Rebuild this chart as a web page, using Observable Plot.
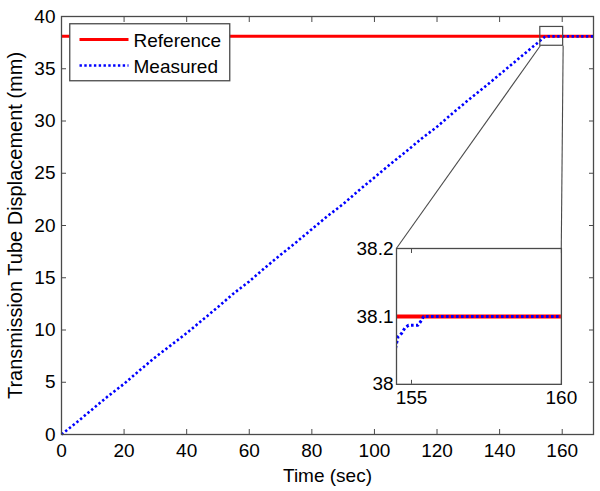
<!DOCTYPE html>
<html><head><meta charset="utf-8">
<script src="https://cdn.jsdelivr.net/npm/d3@7"></script>
<script src="https://cdn.jsdelivr.net/npm/@observablehq/plot@0.6"></script>
<style>
body{margin:0;background:#fff;}
#wrap{position:relative;width:600px;height:491px;overflow:hidden;}
#wrap svg{position:absolute;}
</style></head><body><div id="wrap"></div>
<script>
// ---- data ----
const timeSec = [0,5,10,15,20,25,30,35,40,45,50,55,60,65,70,75,80,85,90,95,100,105,110,115,120,125,130,135,140,145,150,152,154,154.5,154.55,154.67,154.78,154.9,155.22,155.33,155.4,160,165,170];
const measuredMm = [0,1.2,2.45,3.7,4.85,6.15,7.4,8.55,9.7,10.95,12.2,13.5,14.65,15.95,17.2,18.4,19.65,20.9,22.05,23.35,24.6,25.85,27.05,28.3,29.45,30.75,32.0,33.2,34.45,35.7,36.95,37.45,37.95,38.06,38.07,38.075,38.083,38.087,38.087,38.094,38.1,38.1,38.1,38.1];
const refTime = [0,170];
const refMm = [38.1,38.1];
const xTicks = [0,20,40,60,80,100,120,140,160];
const yTicks = [0,5,10,15,20,25,30,35,40];
const insetXTicks = [155,160];
const insetYTicks = [38,38.1,38.2];
const legendLabels = ["Reference","Measured"];
const xLabel = "Time (sec)";
const yLabel = "Transmission Tube Displacement (mm)";

// ---- layout config ----
const FONT = '"Liberation Sans", Arial, sans-serif';
const GRAY = "#4a4a4a";
const RED = "#ff0000", BLUE = "#0000ff";
const zoomBox = {x1:153, x2:160.3, y1:37.2, y2:39.0};        // main-axes units
const insetFrame = {x1:107, x2:159.7, y1:4.8, y2:17.8};      // main-axes units
const insetDomainX = [154.5,160], insetDomainY = [38,38.2];

const measured = timeSec.map((t,i)=>({t, v: measuredMm[i]}));
const reference = refTime.map((t,i)=>({t, v: refMm[i]}));
const connectors = [
  {xa: zoomBox.x1, ya: zoomBox.y1, xb: insetFrame.x1, yb: insetFrame.y2},
  {xa: zoomBox.x2, ya: zoomBox.y1, xb: insetFrame.x2, yb: insetFrame.y2}
];
const blank = () => "";
const fmtInset = d => String(+d.toFixed(1));

const main = Plot.plot({
  width:600, height:491,
  marginLeft:61, marginRight:7, marginTop:16, marginBottom:57,
  style:{fontFamily:FONT, fontSize:"19px", color:"#000", background:"transparent", overflow:"visible"},
  x:{domain:[0,170]}, y:{domain:[0,40]},
  marks:[
    Plot.line(reference,{x:"t", y:"v", stroke:RED, strokeWidth:3, strokeLinecap:"butt"}),
    Plot.line(measured,{x:"t", y:"v", stroke:BLUE, strokeWidth:2.6, strokeDasharray:"2.4,2.4", strokeLinecap:"butt", strokeLinejoin:"miter"}),
    Plot.rect([zoomBox],{x1:"x1", x2:"x2", y1:"y1", y2:"y2", fill:"none", stroke:GRAY, strokeWidth:1.2}),
    Plot.link(connectors,{x1:"xa", y1:"ya", x2:"xb", y2:"yb", stroke:GRAY, strokeWidth:1.1}),
    Plot.frame({stroke:GRAY, strokeWidth:1.3}),
    Plot.axisX(xTicks,{anchor:"bottom", tickSize:0, tickPadding:9, label:xLabel, labelAnchor:"center", labelOffset:47.5, labelArrow:"none"}),
    Plot.axisY(yTicks,{anchor:"left", tickSize:0, tickPadding:6, label:null}),
    Plot.axisY(yTicks,{anchor:"left", tickSize:0, tickFormat:blank, fontSize:20, label:yLabel, labelAnchor:"center", labelOffset:54, labelArrow:"none"}),
    Plot.axisX(xTicks,{anchor:"bottom", tickSize:-5, tickFormat:blank, label:null, stroke:GRAY}),
    Plot.axisX(xTicks,{anchor:"top", tickSize:-5, tickFormat:blank, label:null, stroke:GRAY}),
    Plot.axisY(yTicks,{anchor:"left", tickSize:-5, tickFormat:blank, label:null, stroke:GRAY}),
    Plot.axisY(yTicks,{anchor:"right", tickSize:-5, tickFormat:blank, label:null, stroke:GRAY})
  ]
});
main.style.left = "0px"; main.style.top = "0px";
const wrap = document.getElementById("wrap");
wrap.appendChild(main);

// ---- inset ----
const sx = main.scale("x"), sy = main.scale("y");
const px1 = sx.apply(insetFrame.x1), px2 = sx.apply(insetFrame.x2);
const pyTop = sy.apply(insetFrame.y2), pyBot = sy.apply(insetFrame.y1);
const iM = {l:50, r:8, t:8, b:30};
const inset = Plot.plot({
  width: (px2-px1)+iM.l+iM.r, height: (pyBot-pyTop)+iM.t+iM.b,
  marginLeft:iM.l, marginRight:iM.r, marginTop:iM.t, marginBottom:iM.b,
  style:{fontFamily:FONT, fontSize:"19px", color:"#000", background:"transparent", overflow:"visible"},
  x:{domain:insetDomainX}, y:{domain:insetDomainY},
  marks:[
    Plot.frame({fill:"white"}),
    Plot.line(reference,{x:"t", y:"v", stroke:RED, strokeWidth:4, strokeLinecap:"butt", clip:true}),
    Plot.line(measured,{x:"t", y:"v", stroke:BLUE, strokeWidth:3, strokeDasharray:"2.6,2.4", strokeLinecap:"butt", strokeLinejoin:"miter", clip:true}),
    Plot.frame({stroke:GRAY, strokeWidth:1.3}),
    Plot.axisX(insetXTicks,{anchor:"bottom", tickSize:0, tickPadding:6, label:null}),
    Plot.axisY(insetYTicks,{anchor:"left", tickSize:0, tickPadding:3, tickFormat:fmtInset, label:null}),
    Plot.axisX(insetXTicks,{anchor:"bottom", tickSize:-4, tickFormat:blank, label:null, stroke:GRAY}),
    Plot.axisX(insetXTicks,{anchor:"top", tickSize:-4, tickFormat:blank, label:null, stroke:GRAY})
  ]
});
inset.style.left = (px1-iM.l)+"px";
inset.style.top = (pyTop-iM.t)+"px";
wrap.appendChild(inset);

// ---- legend ----
const lg = d3.select(wrap).append("svg")
  .attr("width",162).attr("height",59)
  .style("left","68.5px").style("top","22.5px");
lg.append("rect").attr("x",0.75).attr("y",0.75).attr("width",160).attr("height",57)
  .attr("fill","white").attr("stroke",GRAY).attr("stroke-width",1.3);
const styles = [{stroke:RED, w:3, dash:null},{stroke:BLUE, w:2.6, dash:"2.4,2.4"}];
legendLabels.forEach((lab,i)=>{
  const cy = 16.5 + i*26;
  const l = lg.append("line").attr("x1",10.5).attr("x2",59.5).attr("y1",cy).attr("y2",cy)
    .attr("stroke",styles[i].stroke).attr("stroke-width",styles[i].w);
  if (styles[i].dash) l.attr("stroke-dasharray",styles[i].dash);
  lg.append("text").attr("x",64.5).attr("y",cy+7).attr("font-family",FONT).attr("font-size",19)
    .attr("fill","#000").text(lab);
});
</script></body></html>
